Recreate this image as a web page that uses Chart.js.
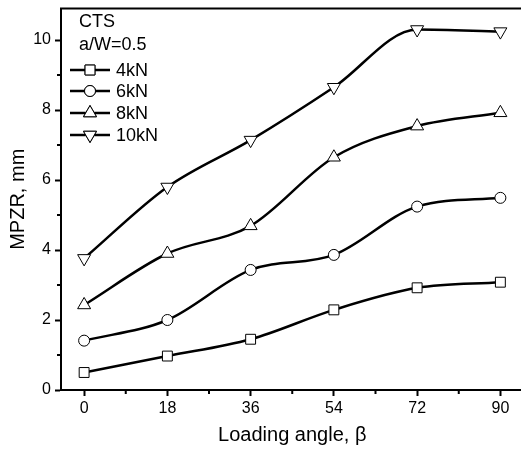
<!DOCTYPE html>
<html>
<head>
<meta charset="utf-8">
<script src="https://cdn.jsdelivr.net/npm/chart.js@4"></script>
<style>
  html, body { margin: 0; padding: 0; background: #fff; overflow: hidden; }
</style>
</head>
<body>
<canvas id="grafico" width="532" height="451"></canvas>
<script>
// loading angle, degrees
const angulos = [0, 18, 36, 54, 72, 90];
// MPZR, mm
const mpzr4kN = [0.5, 0.97, 1.45, 2.29, 2.92, 3.08];
const mpzr6kN = [1.41, 2.0, 3.43, 3.86, 5.24, 5.49];
const mpzr8kN = [2.43, 3.9, 4.69, 6.65, 7.54, 7.92];
const mpzr10kN = [3.76, 5.8, 7.14, 8.65, 10.3, 10.24];
const xTicks = [0, 18, 36, 54, 72, 90];
const yTicks = [0, 2, 4, 6, 8, 10];
const xMinor = [9, 27, 45, 63, 81];
const yMinor = [1, 3, 5, 7, 9];
const legendaTitulo = ["CTS", "a/W=0.5"];

const fonte = "'Liberation Sans', Arial, sans-serif";

function serie(label, valores, estilo, rot) {
  return {
    label: label,
    data: angulos.map((a, i) => ({ x: a, y: valores[i] })),
    borderColor: "#000",
    borderWidth: 2.5,
    cubicInterpolationMode: "monotone",
    pointStyle: estilo,
    rotation: rot,
    pointRadius: estilo === "circle" ? 5.5 : (estilo === "rect" ? 7 : 7.5),
    pointBorderWidth: 1,
    pointBorderColor: "#000",
    pointBackgroundColor: "#fff",
    clip: false,
  };
}

const eixosExtras = {
  id: "eixosExtras",
  afterDraw(chart) {
    const ctx = chart.ctx;
    const a = chart.chartArea;
    const sx = chart.scales.x;
    const sy = chart.scales.y;
    ctx.save();
    ctx.strokeStyle = "#000";
    // top border
    ctx.lineWidth = 2;
    ctx.beginPath();
    ctx.moveTo(a.left - 1, a.top);
    ctx.lineTo(a.right, a.top);
    ctx.stroke();
    // minor ticks
    ctx.beginPath();
    xMinor.forEach((v) => {
      const px = sx.getPixelForValue(v);
      ctx.moveTo(px, a.bottom);
      ctx.lineTo(px, a.bottom + 4);
    });
    yMinor.forEach((v) => {
      const py = sy.getPixelForValue(v);
      ctx.moveTo(a.left, py);
      ctx.lineTo(a.left - 4, py);
    });
    ctx.stroke();

    // legend
    ctx.fillStyle = "#000";
    ctx.font = "18px " + fonte;
    ctx.textBaseline = "middle";
    ctx.textAlign = "left";
    ctx.fillText(legendaTitulo[0], 79, 22);
    ctx.fillText(legendaTitulo[1], 79, 45);
    const linhasY = [70, 91, 113, 135];
    chart.data.datasets.forEach((ds, i) => {
      const y = linhasY[i];
      ctx.lineWidth = 2.5;
      ctx.strokeStyle = "#000";
      ctx.beginPath();
      ctx.moveTo(70, y);
      ctx.lineTo(110, y);
      ctx.stroke();
      ctx.lineWidth = 1;
      ctx.fillStyle = "#fff";
      Chart.helpers.drawPoint(ctx, {
        pointStyle: ds.pointStyle,
        rotation: ds.rotation,
        radius: ds.pointRadius,
        borderWidth: 1,
      }, 90, y);
      ctx.fill();
      ctx.stroke();
      ctx.fillStyle = "#000";
      ctx.fillText(ds.label, 116, y + 1);
    });
    ctx.restore();
  },
};

function semPadding(s) {
  s.paddingTop = 0;
  s.paddingBottom = 0;
}

new Chart(document.getElementById("grafico").getContext("2d"), {
  type: "line",
  data: {
    datasets: [
      serie("4kN", mpzr4kN, "rect", 0),
      serie("6kN", mpzr6kN, "circle", 0),
      serie("8kN", mpzr8kN, "triangle", 0),
      serie("10kN", mpzr10kN, "triangle", 180),
    ],
  },
  options: {
    responsive: false,
    animation: false,
    layout: { padding: { top: 1.5, right: 0, left: 0, bottom: 0 } },
    plugins: {
      legend: { display: false },
      tooltip: { enabled: false },
    },
    scales: {
      x: {
        type: "linear",
        min: -5,
        max: 95,
        afterBuildTicks: (s) => { s.ticks = xTicks.map((v) => ({ value: v })); },
        afterFit: (s) => { s.height = 61; },
        border: { color: "#000", width: 2 },
        grid: { drawOnChartArea: false, tickLength: 6, tickColor: "#000", tickWidth: 2 },
        ticks: { color: "#000", font: { family: fonte, size: 16 }, padding: 3 },
        title: {
          display: true,
          text: "Loading angle, β",
          color: "#000",
          font: { family: fonte, size: 20 },
          padding: { top: 0, bottom: 4 },
        },
      },
      y: {
        type: "linear",
        min: 0,
        max: 10.9,
        afterBuildTicks: (s) => { s.ticks = yTicks.map((v) => ({ value: v })); },
        afterFit: (s) => { s.width = 61; semPadding(s); },
        border: { color: "#000", width: 2 },
        grid: { drawOnChartArea: false, tickLength: 6, tickColor: "#000", tickWidth: 2 },
        ticks: { color: "#000", font: { family: fonte, size: 16 }, padding: 4 },
        title: {
          display: true,
          text: "MPZR, mm",
          color: "#000",
          font: { family: fonte, size: 20 },
          padding: { top: 6, bottom: 0 },
        },
      },
    },
  },
  plugins: [eixosExtras],
});
</script>
</body>
</html>
